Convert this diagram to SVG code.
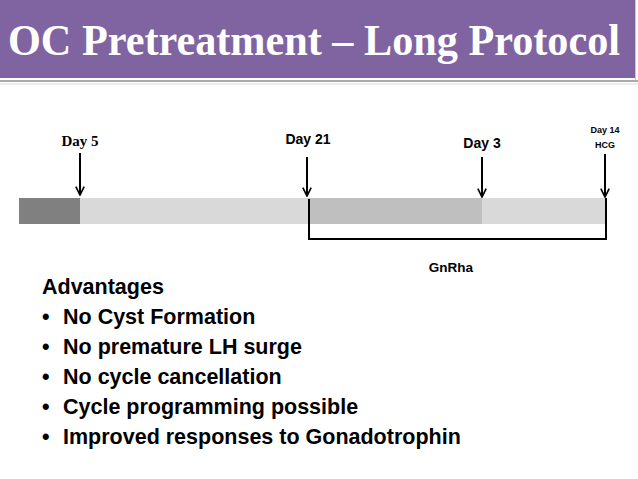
<svg xmlns="http://www.w3.org/2000/svg" width="638" height="479" viewBox="0 0 638 479">
<defs>
<style>
.serif{font-family:"Liberation Serif","Times New Roman",serif;font-weight:bold}
.sans{font-family:"Liberation Sans",Arial,sans-serif;font-weight:bold;fill:#000}
.arrow{stroke:#000;stroke-width:2;fill:none}
</style>
<marker id="ah2" viewBox="0 0 12 12" refX="11" refY="6" markerWidth="10" markerHeight="10" orient="auto" markerUnits="userSpaceOnUse">
<path d="M1,1 L11,6 L1,11" fill="none" stroke="#000" stroke-width="2"/>
</marker>
</defs>
<rect width="638" height="479" fill="#fff"/>
<g id="title">
<rect x="0" y="0" width="635" height="78" fill="#8064a2"/>
<line x1="635.5" y1="0" x2="635.5" y2="80" stroke="#c8c8c8" stroke-width="1"/>
<line x1="0" y1="81" x2="638" y2="81" stroke="#aaa" stroke-width="2"/>
<line x1="0" y1="84" x2="638" y2="84" stroke="#ddd" stroke-width="1"/>
<text transform="translate(8,55) scale(0.96,1)" x="0" y="0" class="serif" font-size="44" fill="#fff">OC Pretreatment – Long Protocol</text>
</g>
<g id="timeline">
<rect x="19" y="198" width="61" height="26" fill="#808080"/>
<rect x="80" y="198" width="228" height="26" fill="#d9d9d9"/>
<rect x="308" y="198" width="174" height="26" fill="#bfbfbf"/>
<rect x="482" y="198" width="124" height="26" fill="#d9d9d9"/>
</g>
<g id="labels">
<text x="80" y="146" class="serif" font-size="15" text-anchor="middle">Day 5</text>
<text x="308" y="144" class="sans" font-size="14" text-anchor="middle">Day 21</text>
<text x="482" y="148" class="sans" font-size="14" text-anchor="middle">Day 3</text>
<text x="605" y="133" class="sans" font-size="9" text-anchor="middle">Day 14</text>
<text x="605" y="148" class="sans" font-size="9" text-anchor="middle">HCG</text>
<text x="451" y="272" class="sans" font-size="13.5" text-anchor="middle">GnRha</text>
</g>
<g id="connectors">
<line x1="80" y1="153" x2="80" y2="195" class="arrow" marker-end="url(#ah2)"/>
<line x1="307" y1="157" x2="307" y2="196" class="arrow" marker-end="url(#ah2)"/>
<line x1="482" y1="157" x2="482" y2="197" class="arrow" marker-end="url(#ah2)"/>
<line x1="605" y1="154" x2="605" y2="197" class="arrow" marker-end="url(#ah2)"/>
<polyline points="309,199 309,239 606,239 606,198" class="arrow"/>
</g>
<g id="advantages">
<text x="42" y="294" class="sans" font-size="21.5">Advantages</text>
<g class="sans" font-size="21.5">
<text x="42" y="324">•</text><text x="63" y="324">No Cyst Formation</text>
<text x="42" y="354">•</text><text x="63" y="354">No premature LH surge</text>
<text x="42" y="384">•</text><text x="63" y="384">No cycle cancellation</text>
<text x="42" y="414">•</text><text x="63" y="414">Cycle programming possible</text>
<text x="42" y="444">•</text><text x="63" y="444">Improved responses to Gonadotrophin</text>
</g>
</g>
</svg>
